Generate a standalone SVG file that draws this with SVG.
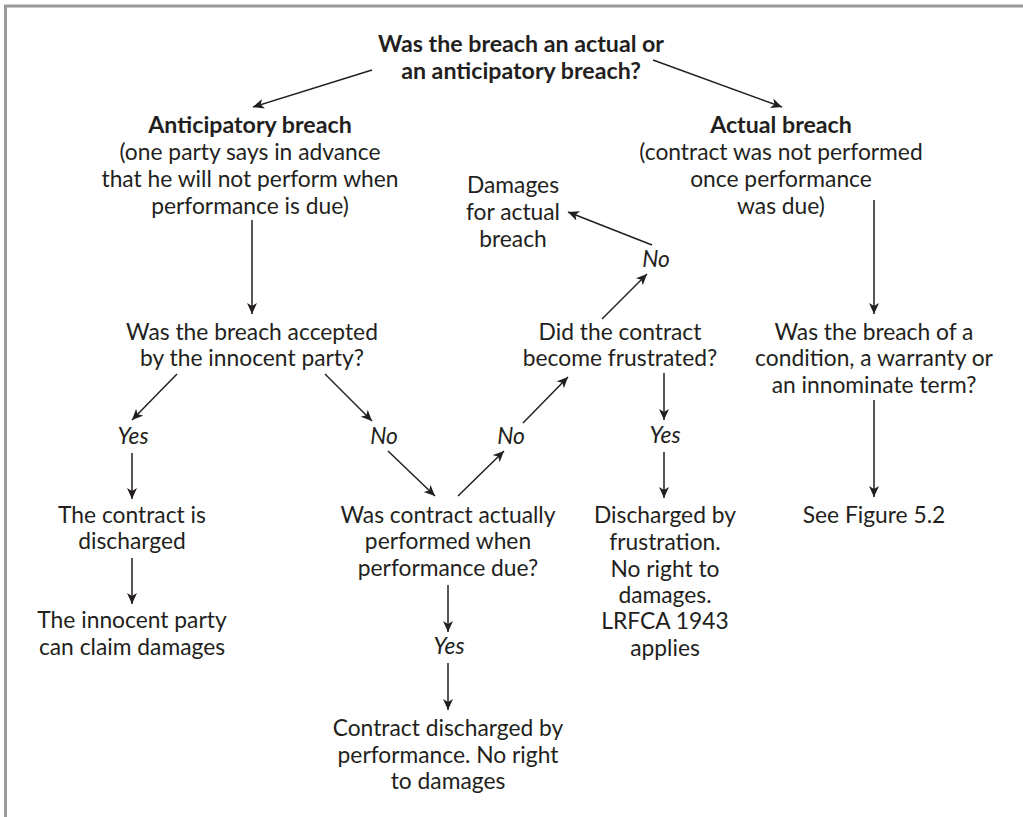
<svg xmlns="http://www.w3.org/2000/svg" width="1023" height="817" viewBox="0 0 1023 817">
<style>
text{font-family:Lato,"Open Sans","Liberation Sans",sans-serif;font-size:22.8px;fill:#231f20;text-anchor:middle}
.b{font-weight:bold;font-size:23.2px}
.i{font-style:italic}
.c line{stroke:#231f20;stroke-width:1.5;marker-end:url(#ah)}
</style>
<defs>
<marker id="ah" markerUnits="userSpaceOnUse" markerWidth="14" markerHeight="12" refX="11" refY="5" orient="auto">
<path d="M0,0 L11,5 L0,10 L3,5 z" fill="#231f20"/>
</marker>
</defs>
<rect width="1023" height="817" fill="#fff"/>
<path d="M5.5,817 V6 H1023" fill="none" stroke="#9a9a9a" stroke-width="3"/>
<g id="q1"><text class="b" x="521" y="52">Was the breach an actual or</text><text class="b" x="521" y="79">an anticipatory breach?</text></g>
<g id="anticipatory"><text x="250" y="133"><tspan class="b">Anticipatory breach</tspan><tspan x="250" y="160">(one party says in advance</tspan><tspan x="250" y="187">that he will not perform when</tspan><tspan x="250" y="214">performance is due)</tspan></text></g>
<g id="actual"><text x="781" y="133"><tspan class="b">Actual breach</tspan><tspan x="781" y="160">(contract was not performed</tspan><tspan x="781" y="187">once performance</tspan><tspan x="781" y="214">was due)</tspan></text></g>
<g id="damages"><text x="513" y="193">Damages</text><text x="513" y="220">for actual</text><text x="513" y="247">breach</text></g>
<g id="no3"><text class="i" x="656" y="267">No</text></g>
<g id="accepted"><text x="252" y="340">Was the breach accepted<tspan x="252" y="366">by the innocent party?</tspan></text></g>
<g id="frustrated"><text x="620" y="340">Did the contract<tspan x="620" y="366">become frustrated?</tspan></text></g>
<g id="term"><text x="874" y="340">Was the breach of a<tspan x="874" y="366">condition, a warranty or</tspan><tspan x="874" y="393">an innominate term?</tspan></text></g>
<g id="yes1"><text class="i" x="133" y="444">Yes</text></g>
<g id="no1"><text class="i" x="384" y="444">No</text></g>
<g id="no2"><text class="i" x="511" y="444">No</text></g>
<g id="yes2"><text class="i" x="665" y="443">Yes</text></g>
<g id="discharged"><text x="132" y="523">The contract is<tspan x="132" y="549">discharged</tspan></text></g>
<g id="performed"><text x="448" y="523">Was contract actually<tspan x="448" y="549">performed when</tspan><tspan x="448" y="576">performance due?</tspan></text></g>
<g id="frustration"><text x="665" y="523">Discharged by<tspan x="665" y="550">frustration.</tspan><tspan x="665" y="577">No right to</tspan><tspan x="665" y="603">damages.</tspan><tspan x="665" y="629">LRFCA 1943</tspan><tspan x="665" y="656">applies</tspan></text></g>
<g id="figure"><text x="874" y="523">See Figure 5.2</text></g>
<g id="claim"><text x="132" y="628">The innocent party<tspan x="132" y="655">can claim damages</tspan></text></g>
<g id="yes3"><text class="i" x="449" y="654">Yes</text></g>
<g id="performance"><text x="448" y="736">Contract discharged by<tspan x="448" y="763">performance. No right</tspan><tspan x="448" y="789">to damages</tspan></text></g>
<g id="connectors" class="c">
<line x1="372" y1="70" x2="253" y2="107"/>
<line x1="653" y1="60" x2="782" y2="107"/>
<line x1="252" y1="220" x2="252" y2="314"/>
<line x1="177" y1="374" x2="132" y2="420"/>
<line x1="325" y1="374" x2="372" y2="421"/>
<line x1="132" y1="453" x2="132" y2="499"/>
<line x1="388" y1="451" x2="435" y2="496"/>
<line x1="458" y1="496" x2="504" y2="451"/>
<line x1="523" y1="423" x2="568" y2="377"/>
<line x1="602" y1="319" x2="647" y2="274"/>
<line x1="652" y1="245" x2="568" y2="212"/>
<line x1="664" y1="373" x2="664" y2="420"/>
<line x1="664" y1="452" x2="664" y2="498"/>
<line x1="874" y1="200" x2="874" y2="314"/>
<line x1="874" y1="400" x2="874" y2="497"/>
<line x1="132" y1="558" x2="132" y2="604"/>
<line x1="448" y1="585" x2="448" y2="632"/>
<line x1="448" y1="663" x2="448" y2="710"/>
</g>
</svg>
